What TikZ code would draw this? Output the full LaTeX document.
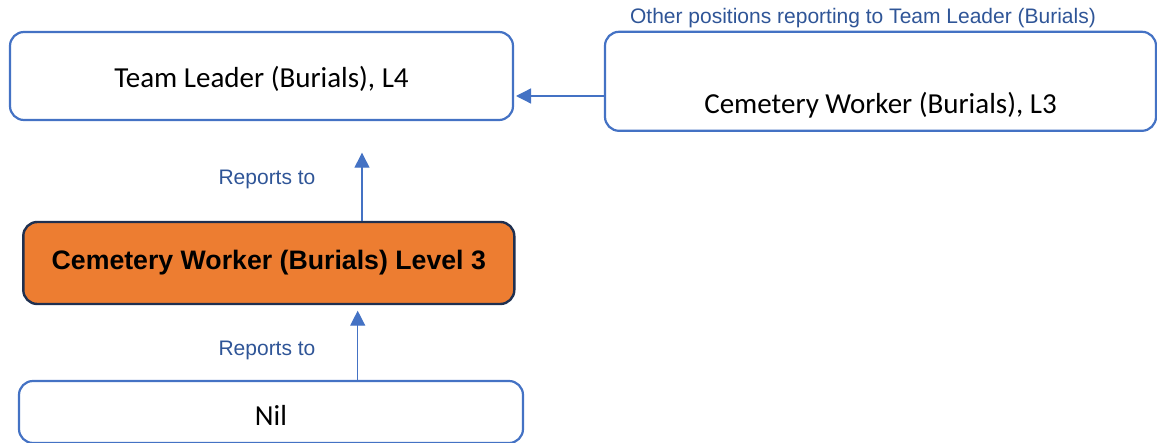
\documentclass[tikz,border=0pt]{standalone}
\usepackage{fontspec}
\setmainfont{Carlito}
\newfontfamily\arialfont{Liberation Sans}
\usetikzlibrary{arrows.meta,positioning}
\definecolor{boxblue}{HTML}{4472C4}
\definecolor{labelblue}{HTML}{2F5597}
\definecolor{orangefill}{HTML}{ED7D31}
\definecolor{navy}{HTML}{1F3050}
\tikzset{
  posbox/.style={draw=boxblue, line width=2.2pt, rounded corners=14pt, fill=white, inner sep=0pt},
  mainbox/.style={draw=navy, line width=2.4pt, rounded corners=14pt, fill=orangefill, inner sep=0pt},
  postext/.style={font=\fontsize{29}{34}\selectfont, text=black, inner sep=0pt},
  maintext/.style={font=\arialfont\bfseries\fontsize{26.7}{31}\selectfont, text=black},
  lbl/.style={font=\arialfont\fontsize{21}{25}\selectfont, text=labelblue, inner sep=0pt},
  conn/.style={draw=boxblue, line width=1.3pt, -{Triangle[length=15pt,width=15pt]}}
}
\begin{document}
\begin{tikzpicture}[x=1pt,y=-1pt]
\useasboundingbox (0,0) rectangle (1157,443);
\clip (0,0) rectangle (1157,443);
% boxes
\node[posbox, minimum width=503pt, minimum height=88pt] (tl) at (261.5,76) {};
\node[postext] (tltext) at (261.5,79) {Team Leader (Burials), L4};
\node[posbox, minimum width=551pt, minimum height=99pt] (cw) at (880.5,81.3) {};
\node[postext] (cwtext) at (880.5,105) {Cemetery Worker (Burials), L3};
\node[lbl] (other) at (863,18) {Other positions reporting to Team Leader (Burials)};
\node[mainbox, minimum width=491pt, minimum height=82pt, maintext] (me) at (268.8,263) {Cemetery Worker (Burials) Level 3};
\node[posbox, minimum width=504pt, minimum height=62pt] (nil) at (271,412) {};
\node[postext] (niltext) at (271,415) {Nil};
\node[lbl] (rep1) at (267,179) {Reports to};
\node[lbl] (rep2) at (267,350) {Reports to};
% connectors
\coordinate (t1) at (362,152.7);
\coordinate (t2) at (357.7,310.7);
\coordinate (t3) at (516,96);
\draw[conn] (t1 |- me.north) -- (t1);
\draw[conn] (t2 |- nil.north) -- (t2);
\draw[conn] (t3 -| cw.west) -- (t3);
\end{tikzpicture}
\end{document}
